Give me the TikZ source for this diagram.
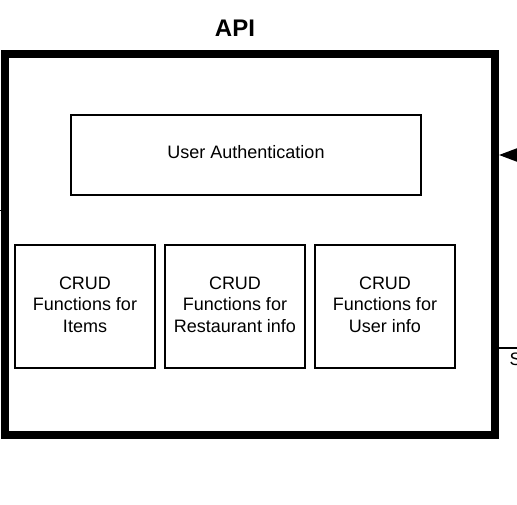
\documentclass[tikz,border=0pt]{standalone}
\usepackage{fontspec}
\setmainfont{Liberation Sans}
\usepackage{tikz}
\usetikzlibrary{positioning}
\usetikzlibrary{arrows.meta,calc}
\tikzstyle{outer}=[rectangle,draw,line width=8pt,minimum width=490pt,minimum height=381pt,inner sep=0pt]
\tikzstyle{module}=[rectangle,draw,line width=2pt,align=center,inner sep=0pt,font=\fontsize{18}{21.5}\selectfont]
\tikzstyle{edge} = [draw,line width=2pt,-{Triangle[length=18pt,width=13pt]}]
\tikzstyle{plainedge} = [draw,line width=2pt]
\tikzset{title/.style={font=\bfseries\fontsize{24}{28}\selectfont}}

\begin{document}
\begin{tikzpicture}[x=1pt,y=1pt]
    \useasboundingbox (0,0) rectangle (517,-505);
    \clip (0,0) rectangle (517,-505);
    % the API frame and its title
    \node[outer] (api) at (250,-244.5) {};
    \node[title] (apititle) at (235,-28.5) {API};

    % the modules inside
    \node[module,minimum width=350pt,minimum height=80pt,text depth=6pt] (auth) at (246,-155) {User Authentication};
    \foreach \pos/\name/\label in {{(85,-306.5)/items/CRUD\\Functions for\\Items},
    {(235,-306.5)/rest/CRUD\\Functions for\\Restaurant info},
    {(385,-306.5)/users/CRUD\\Functions for\\User info}}
        \node[module,minimum width=140pt,minimum height=123pt,text depth=4pt] (\name) at \pos {\label};

    % connectors leaving the frame
    \coordinate (inright) at (540,-155);
    \coordinate (outright) at (540,-348);
    \coordinate (outleft) at (-20,-211);
    \path[edge] (inright) -- (inright -| api.east);
    \path[plainedge] (api.east |- outright) -- (outright);
    \path[draw,line width=1pt] (api.west |- outleft) -- (outleft);
    \node[anchor=north west,inner sep=0pt,font=\fontsize{18}{21.5}\selectfont] (slabel) at (509.5,-353) {S};
\end{tikzpicture}
\end{document}
